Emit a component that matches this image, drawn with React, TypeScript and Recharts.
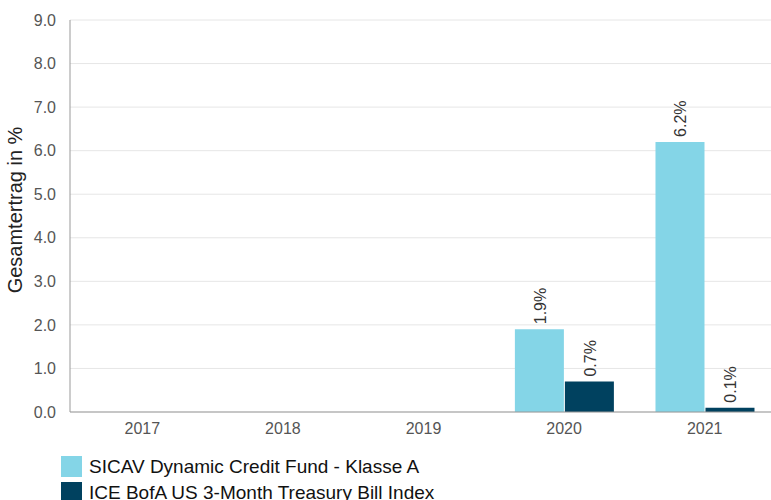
import { Bar, BarChart, CartesianGrid, Label, LabelList, XAxis, YAxis } from "recharts";

const years = ["2017", "2018", "2019", "2020", "2021"];
const fundValues: (number | null)[] = [null, null, null, 1.9, 6.2];
const indexValues: (number | null)[] = [null, null, null, 0.7, 0.1];
const yTicks = [0, 1, 2, 3, 4, 5, 6, 7, 8, 9];
const seriesNames = ["SICAV Dynamic Credit Fund - Klasse A", "ICE BofA US 3-Month Treasury Bill Index"];
const seriesColors = ["#84d5e7", "#00415f"];

const data = years.map((year, i) => ({ year, fund: fundValues[i], index: indexValues[i] }));

const font = "'Liberation Sans', Arial, sans-serif";

function BarValueLabel(props: any) {
  const { x, y, width, value } = props;
  if (value == null) return null;
  const cx = x + width / 2 + 1;
  const ty = y - 5;
  return (
    <text
      x={cx}
      y={ty}
      transform={`rotate(-90, ${cx}, ${ty})`}
      textAnchor="start"
      dominantBaseline="central"
      fontSize={16}
      fill="#333"
      fontFamily={font}
    >
      {`${Number(value).toFixed(1)}%`}
    </text>
  );
}

export default function App() {
  return (
    <div style={{ position: "absolute", left: 0, top: 0, width: 771, height: 500, fontFamily: font, overflow: "hidden" }}>
      <BarChart
        width={775}
        height={500}
        data={data}
        margin={{ top: 20, right: 0, bottom: 58, left: 0 }}
        barCategoryGap="15%"
        barGap={1}
      >
        <CartesianGrid vertical={false} stroke="#e6e6e6" />
        <XAxis
          dataKey="year"
          height={30}
          padding={{ left: 2, right: 0 }}
          tickLine={false}
          axisLine={{ stroke: "#999" }}
          tick={{ fill: "#555", fontSize: 16, fontFamily: font }}
          tickMargin={5}
        />
        <YAxis
          width={70}
          domain={[0, 9]}
          ticks={yTicks}
          interval={0}
          tickFormatter={(v: number) => v.toFixed(1)}
          tickLine={false}
          axisLine={{ stroke: "#999" }}
          tick={{ fill: "#555", fontSize: 16, fontFamily: font }}
          tickMargin={8}
        >
          <Label
            content={(p: any) => {
              const vb = p.viewBox;
              const cy = vb.y + vb.height / 2 - 6;
              return (
                <text
                  x={15}
                  y={cy}
                  transform={`rotate(-90, 15, ${cy})`}
                  textAnchor="middle"
                  dominantBaseline="central"
                  fontSize={20}
                  fill="#222"
                  fontFamily={font}
                >
                  Gesamtertrag in %
                </text>
              );
            }}
          />
        </YAxis>
        <Bar dataKey="fund" name={seriesNames[0]} fill={seriesColors[0]} isAnimationActive={false}>
          <LabelList dataKey="fund" content={BarValueLabel} />
        </Bar>
        <Bar dataKey="index" name={seriesNames[1]} fill={seriesColors[1]} isAnimationActive={false}>
          <LabelList dataKey="index" content={BarValueLabel} />
        </Bar>
      </BarChart>
      <div style={{ position: "absolute", left: 61, top: 453 }}>
        {seriesNames.map((name, i) => (
          <div key={name} style={{ display: "flex", alignItems: "center", height: 26 }}>
            <span style={{ width: 21, height: 21, background: seriesColors[i], display: "inline-block", marginRight: 7 }} />
            <span style={{ fontSize: 19, color: "#111", lineHeight: "21px" }}>{name}</span>
          </div>
        ))}
      </div>
    </div>
  );
}
